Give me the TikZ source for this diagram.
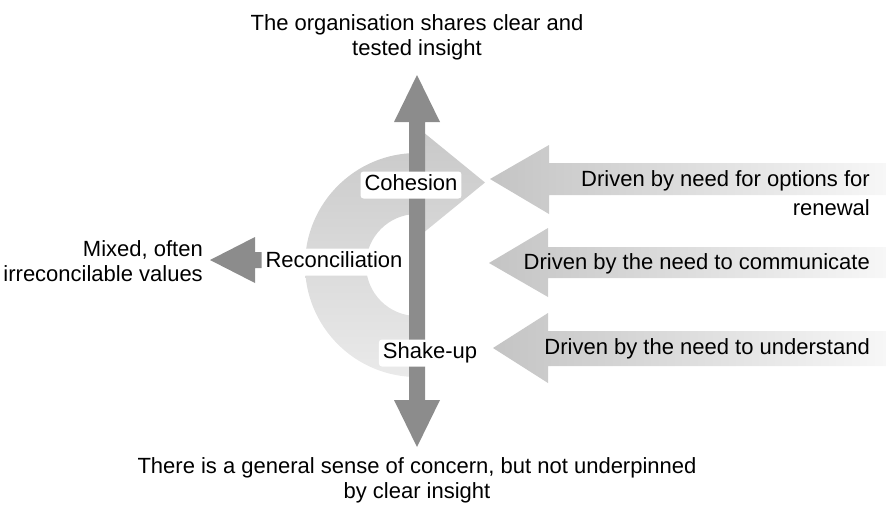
\documentclass[tikz,border=0pt]{standalone}
\usepackage{fontspec}
\setmainfont{Liberation Sans}
\definecolor{darkarrow}{RGB}{140,140,140}
\definecolor{arcdark}{RGB}{200,200,200}
\definecolor{arclight}{RGB}{234,234,234}
\definecolor{drvdark}{RGB}{196,196,196}
\definecolor{drvlight}{RGB}{247,247,247}
\tikzset{
  txt/.style={inner sep=0pt, font=\fontsize{22}{25}\selectfont, text height=16pt, text depth=5pt},
  lbl/.style={txt, fill=white, rounded corners=3pt, inner xsep=4pt, inner ysep=3pt},
  bigarrow/.style={fill=darkarrow, draw=none},
  drvarrow/.style={left color=drvdark, right color=drvlight, draw=none},
}
\begin{document}
\begin{tikzpicture}[x=1pt,y=-1pt]
\path[use as bounding box] (0,0) rectangle (886,504);
% centre of the curved arrow
\coordinate (c) at (417,265);
% curved light arrow
\path[top color=arcdark, bottom color=arclight, draw=none]
  (417,377) arc[start angle=90, end angle=270, radius=112]
  -- (417,127) -- (485,182.5) -- (417,238) -- (417,214)
  arc[start angle=270, end angle=90, radius=51] -- cycle;
% three driving arrows
\path[drvarrow] (490,179) -- (549,145) -- (549,163) -- (886,163) -- (886,195) -- (549,195) -- (549,214) -- cycle;
\path[drvarrow] (489,263) -- (548,228) -- (548,247) -- (886,247) -- (886,278) -- (548,278) -- (548,297) -- cycle;
\path[drvarrow] (493,348) -- (548,313) -- (548,331) -- (886,331) -- (886,366) -- (548,366) -- (548,383) -- cycle;
% vertical double arrow
\path[bigarrow] (417,75) -- (440,122) -- (425,122) -- (425,400) -- (440,400) -- (417,447)
  -- (394,400) -- (409,400) -- (409,122) -- (394,122) -- cycle;
% left arrow
\path[bigarrow] (210,260) -- (255,237) -- (255,252) -- (300,252) -- (300,268) -- (255,268) -- (255,283) -- cycle;
% labels
\node[lbl] (coh) at (411,185) {Cohesion};
\node[lbl] (rec) at (334,262) {Reconciliation};
\node[lbl] (shk) at (430,353) {Shake-up};
% texts
\node[txt, align=center] (top) at (417,50) {The organisation shares clear and\\tested insight};
\node[txt, align=center] (bot) at (417,493) {There is a general sense of concern, but not underpinned\\by clear insight};
\node[txt, align=right, anchor=east] (mix) at (203,276) {Mixed, often\\irreconcilable values};
\node[txt, anchor=east] (d1) at (870,181) {Driven by need for options for};
\node[txt, anchor=east] (d1b) at (870,210) {renewal};
\node[txt, anchor=east] (d2) at (870,264) {Driven by the need to communicate};
\node[txt, anchor=east] (d3) at (870,349) {Driven by the need to understand};
\end{tikzpicture}
\end{document}
